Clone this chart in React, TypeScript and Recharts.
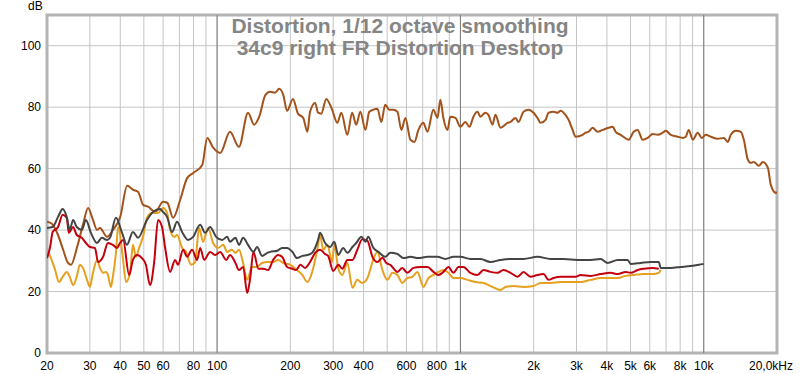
import { LineChart, Line, XAxis, YAxis, CartesianGrid, ReferenceLine, ReferenceArea } from 'recharts';

// [frequency Hz, level dB]
const fundamental: [number, number][] = [
  [20, 42.7], [21.0, 42.0], [22.2, 38.4], [23.3, 33.6], [24.4, 29.3], [25.1, 28.7], [26.6, 34.5], [28.1, 41.7],
  [29.5, 47.2], [30.9, 43.3], [32.1, 40.1], [33.0, 40.7], [35.3, 37.8], [37.4, 40.1], [40.0, 44.3], [42.7, 54.4],
  [45.2, 53.1], [47.4, 52.4], [49.7, 48.2], [52.1, 47.6], [55.7, 45.9], [60.0, 49.2], [62.4, 48.9], [66.0, 44.0],
  [70.5, 49.8], [75.4, 57.0], [79.8, 58.6], [86.9, 61.2], [91.1, 70.0], [96.4, 66.8], [103, 65.1], [113, 72.0],
  [123, 67.1], [134, 78.2], [142, 74.3], [149, 76.9], [158, 84.0], [165, 85.0], [173, 84.7], [180, 86.0],
  [187, 84.0], [194, 78.8], [205, 82.7], [215, 77.9], [226, 76.5], [235, 72.0], [241, 78.5], [253, 81.4],
  [260, 78.2], [268, 77.9], [281, 82.7], [297, 79.2], [312, 74.9], [324, 78.2], [343, 71.0], [359, 78.2],
  [373, 74.3], [388, 78.5], [407, 72.6], [422, 78.5], [439, 79.2], [456, 79.5], [473, 75.2], [491, 80.8],
  [510, 79.2], [530, 79.2], [551, 78.5], [572, 72.6], [594, 76.5], [623, 69.4], [647, 68.7], [672, 72.6],
  [704, 74.9], [732, 72.0], [774, 79.2], [805, 76.5], [827, 82.4], [851, 76.5], [885, 72.6], [909, 76.9],
  [954, 76.5], [1000, 73.6], [1048, 75.2], [1089, 73.6], [1131, 76.9], [1175, 78.5], [1209, 76.9], [1267, 78.2],
  [1304, 77.5], [1354, 74.3], [1393, 77.5], [1461, 73.3], [1561, 74.9], [1606, 75.2], [1684, 76.5], [1732, 75.2],
  [1817, 78.5], [1905, 79.2], [1998, 78.2], [2074, 76.5], [2135, 74.9], [2238, 75.9], [2302, 78.2], [2413, 78.5],
  [2507, 78.2], [2581, 78.8], [2654, 78.2], [2783, 75.9], [2891, 72.6], [2974, 70.4], [3178, 71.0], [3269, 71.7],
  [3363, 72.0], [3493, 73.3], [3663, 72.0], [3841, 72.6], [4066, 73.3], [4223, 73.6], [4345, 72.0], [4556, 71.0],
  [4913, 69.4], [5151, 72.0], [5350, 72.6], [5610, 69.4], [5883, 70.0], [6168, 71.3], [6469, 71.0], [6784, 71.7],
  [6978, 72.3], [7318, 71.0], [7817, 70.4], [8198, 70.0], [8433, 70.4], [8676, 72.6], [9012, 69.4], [9448, 71.7],
  [9812, 70.0], [10191, 71.0], [10686, 70.4], [11418, 69.7], [12087, 70.0], [12552, 68.7], [12915, 71.0], [13542, 72.3],
  [14202, 72.0], [14611, 69.4], [15175, 62.9], [15614, 61.9], [16064, 62.2], [16844, 60.9], [17487, 62.2], [18339, 60.3],
  [18867, 54.7], [19789, 52.1], [20000, 52.4],
];

const thd: [number, number][] = [
  [20, 40.7], [21.1, 41.0], [22.2, 44.3], [23.2, 46.9], [24.1, 44.3], [24.8, 40.1], [25.6, 43.3], [26.5, 41.0],
  [27.8, 40.1], [28.9, 43.3], [30.3, 39.1], [32.1, 35.8], [33.6, 37.5], [35.3, 36.8], [36.3, 37.5], [38.4, 44.0],
  [40.7, 39.1], [42.6, 35.2], [45.1, 39.4], [47.3, 37.5], [51.5, 43.3], [54.5, 45.9], [58.3, 46.9], [60.0, 45.9],
  [62.3, 44.3], [65.3, 39.4], [68.5, 42.7], [71.8, 39.4], [76.0, 36.8], [79.7, 37.8], [85.2, 41.7], [89.3, 39.1],
  [93.6, 41.0], [99.1, 37.8], [105, 36.8], [110, 37.8], [113, 36.2], [119, 37.5], [123, 35.2], [128, 37.5],
  [134, 35.2], [141, 32.9], [146, 34.5], [153, 31.6], [161, 32.6], [165, 32.9], [177, 33.3], [185, 34.2],
  [194, 34.2], [204, 32.9], [213, 30.9], [224, 31.6], [235, 31.9], [246, 32.6], [260, 36.8], [265, 39.1],
  [278, 35.8], [292, 34.5], [303, 36.2], [315, 31.9], [330, 34.2], [343, 32.6], [360, 34.5], [373, 35.8],
  [392, 37.8], [407, 36.2], [418, 37.8], [439, 34.2], [460, 32.9], [491, 31.3], [515, 32.6], [551, 32.2],
  [583, 30.9], [623, 31.3], [672, 30.9], [732, 31.3], [805, 31.3], [868, 30.6], [936, 31.3], [1000, 31.3],
  [1099, 30.6], [1209, 30.6], [1329, 29.6], [1461, 30.3], [1606, 30.6], [1817, 30.6], [2075, 31.3], [2347, 30.6],
  [2655, 30.6], [3032, 30.3], [3429, 30.3], [3770, 30.6], [4029, 29.3], [4430, 30.3], [4868, 30.3], [5008, 29.0],
  [5506, 29.3], [6054, 29.6], [6531, 29.6], [6656, 27.7], [7318, 27.7], [8046, 28.0], [8846, 28.3], [9543, 28.7],
  [10000, 29.0],
];

const h2: [number, number][] = [
  [20, 30.9], [20.6, 34.5], [21.1, 39.4], [22.2, 41.0], [23.2, 45.0], [24.1, 44.0], [24.6, 39.1], [25.6, 41.0],
  [26.5, 38.4], [27.8, 37.5], [28.9, 35.8], [30.0, 34.5], [31.5, 34.2], [32.4, 29.6], [34.0, 31.3], [35.6, 35.8],
  [37.3, 35.2], [38.8, 34.2], [39.9, 35.8], [41.1, 36.8], [43.5, 25.4], [45.1, 30.3], [46.9, 31.9], [49.1, 30.9],
  [51.0, 28.7], [53.0, 22.1], [55.1, 29.3], [57.2, 43.3], [59.4, 41.0], [61.1, 34.5], [64.1, 26.4], [67.2, 30.3],
  [69.1, 28.7], [72.5, 33.6], [75.3, 31.3], [78.9, 33.6], [82.8, 30.3], [85.2, 34.2], [88.5, 30.3], [93.6, 32.9],
  [98.2, 31.9], [103, 32.9], [109, 30.3], [113, 31.9], [119, 29.3], [123, 27.0], [128, 28.0], [133, 19.5],
  [137, 24.8], [141, 32.9], [148, 27.4], [155, 27.4], [162, 27.0], [170, 30.3], [178, 31.9], [185, 31.3],
  [194, 28.0], [204, 27.4], [211, 27.0], [220, 28.7], [230, 27.7], [241, 29.6], [253, 32.6], [265, 33.6],
  [278, 32.2], [286, 31.6], [300, 26.7], [315, 28.7], [327, 27.4], [343, 30.3], [360, 30.3], [377, 33.6],
  [395, 37.0], [415, 36.5], [435, 31.3], [456, 29.6], [478, 31.0], [496, 29.3], [515, 28.7], [551, 26.4],
  [577, 27.7], [605, 26.1], [641, 27.7], [685, 28.0], [732, 28.0], [775, 26.4], [812, 25.4], [852, 26.4],
  [893, 28.0], [936, 26.1], [982, 28.0], [1029, 28.0], [1099, 26.1], [1175, 25.4], [1244, 27.0], [1329, 26.4],
  [1420, 26.1], [1503, 27.0], [1606, 26.1], [1717, 24.8], [1817, 26.4], [1942, 24.8], [2075, 25.4], [2196, 25.7],
  [2303, 23.8], [2415, 24.4], [2581, 24.8], [2758, 24.8], [2975, 24.8], [3119, 25.4], [3429, 25.1], [3770, 25.7],
  [4145, 26.1], [4430, 25.7], [4777, 26.4], [5008, 26.1], [5352, 27.0], [5665, 27.4], [6170, 27.7], [6531, 27.4],
];

const h3: [number, number][] = [
  [20, 33.6], [20.9, 30.3], [21.6, 27.0], [22.4, 23.1], [23.2, 24.8], [24.1, 26.4], [24.8, 24.8], [25.6, 22.1],
  [26.5, 24.8], [27.3, 28.7], [28.1, 27.7], [29.2, 23.8], [30.0, 21.5], [30.9, 26.1], [32.1, 30.3], [33.0, 27.7],
  [34.0, 26.1], [34.9, 26.4], [35.6, 25.4], [36.6, 21.5], [37.3, 24.8], [38.4, 32.6], [39.2, 41.0], [41.1, 30.3],
  [42.2, 23.1], [43.9, 26.1], [45.1, 35.2], [46.4, 31.3], [47.8, 34.2], [49.6, 37.8], [51.5, 44.0], [54.0, 45.6],
  [57.2, 45.6], [60.0, 47.2], [62.3, 45.6], [64.1, 40.1], [66.6, 37.8], [68.5, 38.4], [71.8, 34.2], [74.6, 32.9],
  [78.2, 28.7], [81.2, 29.6], [84.4, 40.7], [87.6, 36.2], [91.9, 40.7], [96.3, 35.8], [101, 34.2], [106, 35.2],
  [110, 32.9], [115, 33.6], [119, 32.6], [123, 33.6], [128, 29.3], [133, 23.8], [139, 28.0], [146, 28.0],
  [153, 29.3], [161, 29.6], [170, 29.6], [178, 30.3], [187, 29.3], [200, 28.7], [213, 27.0], [224, 25.4],
  [235, 23.1], [246, 26.4], [258, 33.6], [265, 38.4], [273, 33.6], [284, 35.2], [297, 29.6], [303, 35.2],
  [315, 27.4], [327, 25.4], [343, 29.3], [360, 21.2], [377, 23.8], [395, 22.8], [415, 24.4], [435, 29.6],
  [456, 32.9], [478, 27.0], [501, 23.8], [525, 26.1], [551, 25.4], [577, 22.8], [605, 24.4], [635, 24.8],
  [666, 26.4], [705, 21.5], [739, 24.4], [775, 25.4], [812, 26.4], [852, 27.0], [893, 26.1], [936, 24.4],
  [1000, 24.4], [1069, 23.8], [1153, 23.1], [1244, 22.8], [1354, 21.5], [1461, 20.5], [1532, 21.5], [1653, 21.8],
  [1817, 21.5], [1998, 21.8], [2135, 22.8], [2347, 22.8], [2581, 23.1], [2837, 23.1], [3119, 23.1], [3429, 23.8],
  [3770, 24.4], [4145, 24.4], [4430, 24.4], [4777, 25.1], [5152, 25.4], [5665, 25.7], [6170, 25.7], [6531, 26.1],
  [6656, 27.0],
];

const gridFreqs = [20, 30, 40, 50, 60, 70, 80, 90, 100, 200, 300, 400, 500, 600, 700, 800, 900,
  1000, 2000, 3000, 4000, 5000, 6000, 7000, 8000, 9000, 10000, 20000];
const freqLabels = ['20', '30', '40', '50', '60', '', '80', '', '100', '200', '300', '400', '', '600', '', '800', '',
  '1k', '2k', '3k', '4k', '5k', '6k', '', '8k', '', '10k', '20,0kHz'];
const decades = [100, 1000, 10000];
const dbTicks = [0, 20, 40, 60, 80, 100];

const toRows = (pts: [number, number][]) => pts.map(([f, db]) => ({ f, db }));

// eslint-disable-next-line @typescript-eslint/no-explicit-any
function FreqTick({ x, y, payload }: any) {
  const i = gridFreqs.indexOf(payload.value);
  const label = i >= 0 ? freqLabels[i] : '';
  if (!label) return null;
  return (
    <text x={x} y={y} dy="0.71em" dx={payload.value === 20000 ? -6 : 0} textAnchor="middle" fontSize={12} fill="#000">
      {label}
    </text>
  );
}

export default function App() {
  return (
    <div style={{ position: 'absolute', left: 0, top: 0, width: 800, height: 374, background: '#fff', fontFamily: '"Liberation Sans", Arial, sans-serif' }}>
      <LineChart width={800} height={374} margin={{ top: 15, right: 23, bottom: 0, left: 0 }}>
        <CartesianGrid stroke="#c4c4c4" />
        <XAxis
          dataKey="f"
          type="number"
          scale="log"
          domain={[20, 20000]}
          ticks={gridFreqs}
          interval={0}
          allowDataOverflow
          tickLine={false}
          axisLine={false}
          height={21}
          tick={<FreqTick />}
        />
        <YAxis
          type="number"
          domain={[0, 110]}
          ticks={dbTicks}
          width={47}
          tickLine={false}
          axisLine={false}
          tickSize={4}
          tickMargin={2}
          tick={{ fontSize: 12, fill: '#000' }}
        />
        {decades.map((d) => (
          <ReferenceLine key={d} x={d} stroke="#7c7c7c" strokeWidth={1} />
        ))}
        <ReferenceArea x1={20} x2={20000} y1={0} y2={110} fill="none" stroke="#b4b4b4" strokeWidth={3} />
        <Line data={toRows(fundamental)} dataKey="db" type="monotone" stroke="#a2531c" strokeWidth={2} dot={false} isAnimationActive={false} />
        <Line data={toRows(h3)} dataKey="db" type="monotone" stroke="#e6a01e" strokeWidth={2} dot={false} isAnimationActive={false} />
        <Line data={toRows(h2)} dataKey="db" type="monotone" stroke="#c4000e" strokeWidth={2} dot={false} isAnimationActive={false} />
        <Line data={toRows(thd)} dataKey="db" type="monotone" stroke="#444444" strokeWidth={2} dot={false} isAnimationActive={false} />
      </LineChart>
      <div style={{ position: 'absolute', left: 28, top: 0, fontSize: 12, lineHeight: '12px', color: '#000' }}>dB</div>
      <div style={{ position: 'absolute', left: 0, top: 15, width: 800, textAlign: 'center', fontSize: 21, lineHeight: '22px', fontWeight: 'bold', color: '#858585' }}>
        <div>Distortion, 1/12 octave smoothing</div>
        <div>34c9 right FR Distortion Desktop</div>
      </div>
    </div>
  );
}
